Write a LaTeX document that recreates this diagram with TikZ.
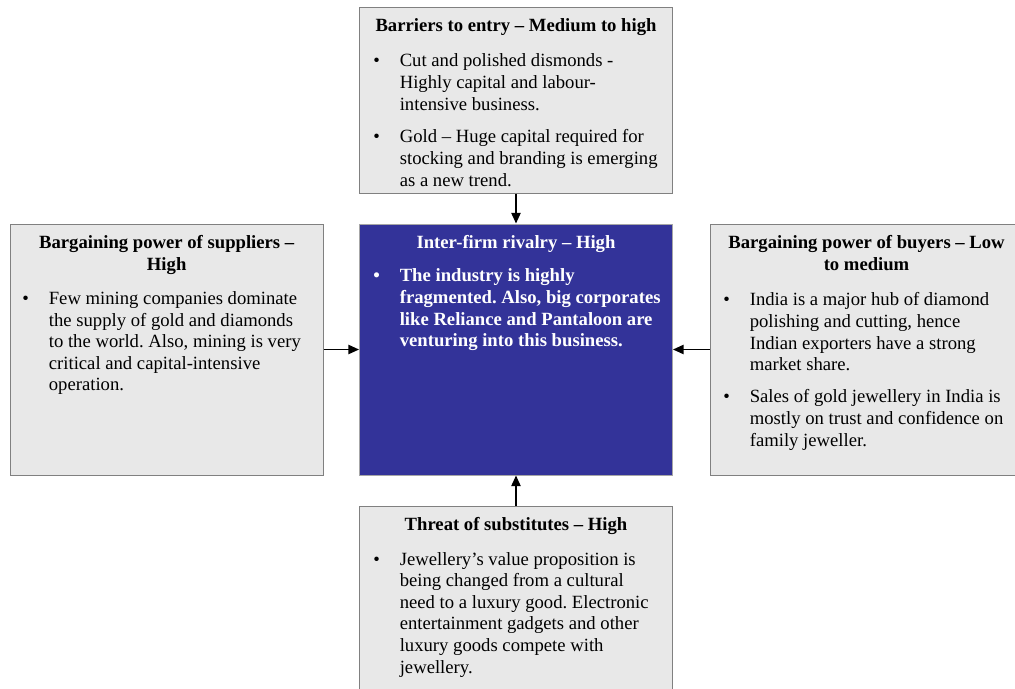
\documentclass[tikz,border=0pt]{standalone}
\usepackage{fontspec}
\setmainfont{Liberation Serif}
\usetikzlibrary{
  arrows.meta,
  positioning,
}
\frenchspacing
\definecolor{boxgray}{RGB}{232,232,232}
\definecolor{rimgray}{RGB}{128,128,128}
\definecolor{rivalblue}{RGB}{51,51,153}
\tikzstyle{force} = [
  rectangle,
  draw=rimgray,
  line width=0.75pt,
  fill=boxgray,
  minimum width=234.75pt,
  inner sep=0pt,
]
\tikzstyle{head} = [font=\fontsize{14}{16.2}\selectfont\bfseries,align=center,inner sep=0pt,anchor=north]
\tikzstyle{points} = [font=\fontsize{14}{16.2}\selectfont,align=left,inner sep=0pt,anchor=north west]
\tikzstyle{arrow} = [-{Triangle[length=8pt,width=7pt]},line width=1.1pt,black]
\newcommand{\forcebullet}{\strut\llap{\textbullet\hspace{15pt}}}

\begin{document}
\begin{tikzpicture}
			\useasboundingbox (0,0) rectangle (761.25pt,-516.75pt);
			\clip (0,0) rectangle (761.25pt,-516.75pt);

			\node[force,fill=rivalblue,draw=rimgray!70,minimum height=188.25pt] (rivalry) at (387pt,-262.125pt) {};
			\node[force,minimum height=139.5pt] (entry) [above=22.5pt of rivalry] {};
			\node[force,minimum height=188.25pt] (suppliers) [left=26.5pt of rivalry] {};
			\node[force,minimum width=228.75pt,minimum height=188.25pt] (buyers) [right=27.4pt of rivalry] {};
			\node[force,minimum height=150pt] (substitutes) [below=22.5pt of rivalry] {};

			% titles sit 7.4pt under the top edge, lists follow
			\node[head] (entryhead) at ([yshift=-7.4pt]entry.north) {\strut Barriers to entry – Medium to high};
			\node[points] (entrylist) at ([xshift=30.4pt,yshift=-33.7pt]entry.north west) {\forcebullet Cut and polished dismonds -\\Highly capital and labour-\\intensive business.\\[8.5pt]\forcebullet Gold – Huge capital required for\\stocking and branding is emerging\\as a new trend.};

			\node[head,text=white] (rivalryhead) at ([yshift=-7.4pt]rivalry.north) {\strut Inter-firm rivalry – High};
			\node[points,text=white,font=\fontsize{14}{16.2}\selectfont\bfseries] (rivalrylist) at ([xshift=30.4pt,yshift=-32.2pt]rivalry.north west) {\forcebullet The industry is highly\\fragmented. Also, big corporates\\like Reliance and Pantaloon are\\venturing into this business.};

			\node[head] (suppliershead) at ([yshift=-7.4pt]suppliers.north) {\strut Bargaining power of suppliers –\\High};
			\node[points] (supplierslist) at ([xshift=29.2pt,yshift=-49.2pt]suppliers.north west) {\forcebullet Few mining companies dominate\\the supply of gold and diamonds\\to the world. Also, mining is very\\critical and capital-intensive\\operation.};

			\node[head] (buyershead) at ([xshift=3pt,yshift=-7.4pt]buyers.north) {\strut Bargaining power of buyers – Low\\to medium};
			\node[points] (buyerslist) at ([xshift=30pt,yshift=-50.2pt]buyers.north west) {\forcebullet India is a major hub of diamond\\polishing and cutting, hence\\Indian exporters have a strong\\market share.\\[8pt]\forcebullet Sales of gold jewellery in India is\\mostly on trust and confidence on\\family jeweller.};

			\node[head] (substituteshead) at ([yshift=-7.4pt]substitutes.north) {\strut Threat of substitutes – High};
			\node[points] (substituteslist) at ([xshift=30.4pt,yshift=-33.2pt]substitutes.north west) {\forcebullet Jewellery’s value proposition is\\being changed from a cultural\\need to a luxury good. Electronic\\entertainment gadgets and other\\luxury goods compete with\\jewellery.};

			\draw[arrow] (entry) -- (rivalry);
			\draw[arrow] (suppliers) -- (rivalry);
			\draw[arrow] (buyers) -- (rivalry);
			\draw[arrow] (substitutes) -- (rivalry);
		\end{tikzpicture}
\end{document}
